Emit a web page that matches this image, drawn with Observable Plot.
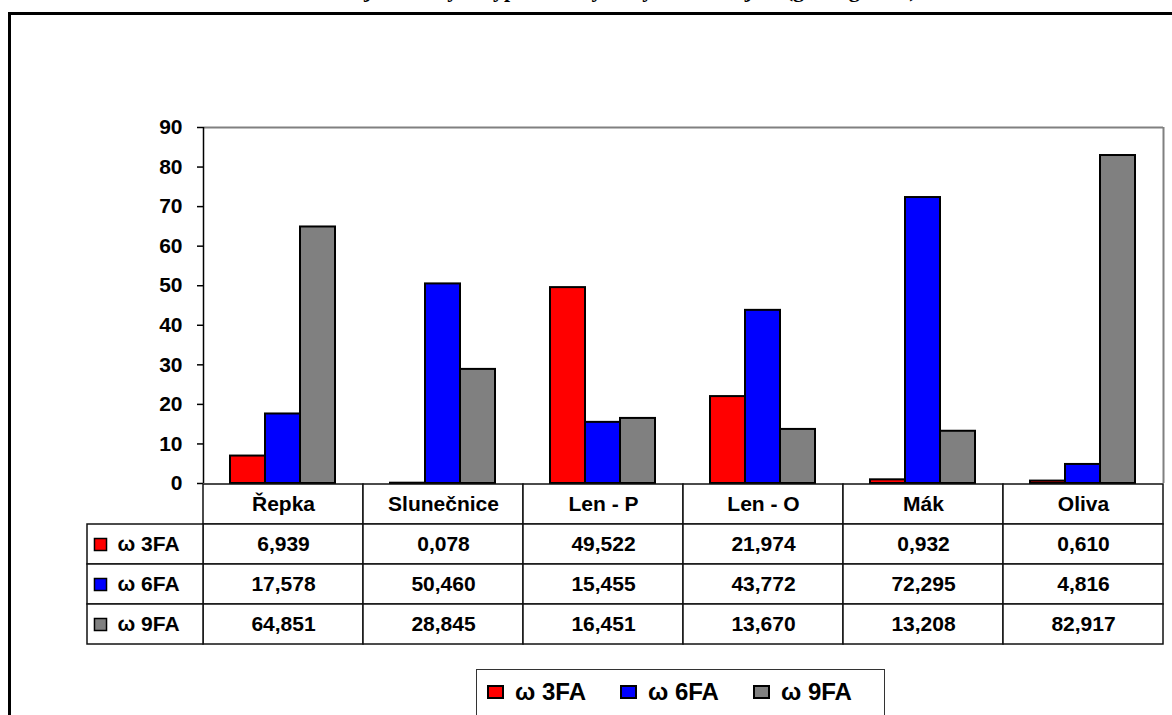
<!DOCTYPE html>
<html><head><meta charset="utf-8">
<script src="https://cdn.jsdelivr.net/npm/d3@7"></script>
<script src="https://cdn.jsdelivr.net/npm/@observablehq/plot@0.6"></script>
<style>
html,body{margin:0;padding:0;background:#fff;overflow:hidden;}
#page{position:relative;width:1172px;height:715px;overflow:hidden;font-family:"Liberation Sans",Arial,sans-serif;}
#frame{position:absolute;left:8px;top:12px;width:1220px;height:800px;border:3px solid #000;box-sizing:border-box;}
#title{position:absolute;top:-21px;left:0;width:1214px;text-align:center;white-space:nowrap;font:bold 22px "Liberation Serif","Times New Roman",serif;line-height:22px;color:#000;}
.layer{position:absolute;left:0;}
#legendbox{position:absolute;left:476px;top:669px;width:409px;height:70px;border:1px solid #333;box-sizing:border-box;padding:5px 0 0 11px;background:#fff;overflow:hidden;}
.lg-swatches{font:bold 24px "Liberation Sans",Arial,sans-serif !important;margin:0 !important;color:#000;flex-wrap:nowrap !important;white-space:nowrap;width:max-content;}
.lg-swatch{margin-right:35px !important;}
.lg-swatch:last-child{margin-right:0 !important;}
.lg-swatch > svg{margin-right:12px !important;overflow:visible;}
.lg-swatch > svg rect{stroke:#000;stroke-width:2px;}
</style>
</head><body>
<div id="page">
  <div id="frame"></div>
  <div id="title">Obsah jednotlivých typů mastných kyselin v olejích (g/100 g tuku)</div>
  <div id="bars" class="layer" style="top:0"></div>
  <div id="axes" class="layer" style="top:0"></div>
  <div id="table" class="layer" style="top:473px"></div>
  <div id="rowlabels" class="layer" style="top:473px"></div>
  <div id="legendbox"></div>
</div>
<script>
const categories = ["Řepka", "Slunečnice", "Len - P", "Len - O", "Mák", "Oliva"];
const series = ["ω 3FA", "ω 6FA", "ω 9FA"];
const omega3 = [6.939, 0.078, 49.522, 21.974, 0.932, 0.610];
const omega6 = [17.578, 50.460, 15.455, 43.772, 72.295, 4.816];
const omega9 = [64.851, 28.845, 16.451, 13.670, 13.208, 82.917];
const colors = ["#ff0000", "#0000ff", "#808080"];
const yTicks = [0, 10, 20, 30, 40, 50, 60, 70, 80, 90];
const HEAD = "header";

const seriesValues = [omega3, omega6, omega9];
const data = [];
series.forEach((s, i) => categories.forEach((c, j) => data.push({cat: c, series: s, value: seriesValues[i][j]})));
const fmt = v => v.toFixed(3).replace(".", ",");
const font = "'Liberation Sans', Arial, sans-serif";
const baseStyle = {background: "transparent", overflow: "visible", fontFamily: font, color: "#000"};

// Bars (grouped by facet)
const bars = Plot.plot({
  width: 1172, height: 490,
  marginLeft: 203, marginRight: 9, marginTop: 127, marginBottom: 7,
  style: baseStyle,
  fx: {domain: categories, paddingInner: 0.33, paddingOuter: 0.165, axis: null, label: null},
  x: {domain: series, padding: 0, axis: null},
  y: {domain: [0, 90], axis: null},
  color: {domain: series, range: colors},
  marks: [
    Plot.barY(data, {fx: "cat", x: "series", y: "value", fill: "series", stroke: "#000", strokeWidth: 2})
  ]
});
document.getElementById("bars").appendChild(bars);

// Frame lines and y axis
const axes = Plot.plot({
  width: 1172, height: 490,
  marginLeft: 203, marginRight: 9, marginTop: 127, marginBottom: 7,
  style: baseStyle,
  x: {domain: [0, 1], axis: null},
  y: {domain: [0, 90], axis: null},
  marks: [
    Plot.ruleY([90], {stroke: "#808080", strokeWidth: 2}),
    Plot.ruleX([1], {stroke: "#808080", strokeWidth: 2}),
    Plot.ruleX([0], {stroke: "#000", strokeWidth: 1.5}),
    Plot.axisY({ticks: yTicks, tickSize: 6, tickPadding: 15, fontSize: 21, fontWeight: "bold", stroke: "#000", strokeWidth: 1.5, fill: "#000", label: null})
  ]
});
document.getElementById("axes").appendChild(axes);

// Data table
const rows = [HEAD, ...series];
const cells = [];
rows.forEach(r => categories.forEach(c => cells.push({cat: c, row: r})));
const table = Plot.plot({
  width: 1172, height: 182,
  marginLeft: 203, marginRight: 9, marginTop: 10, marginBottom: 10,
  style: baseStyle,
  x: {domain: categories, padding: 0, axis: null},
  y: {domain: rows, padding: 0, axis: null},
  marks: [
    Plot.cell(cells, {x: "cat", y: "row", fill: "#fff", stroke: "#111", strokeWidth: 1.5, inset: 0}),
    Plot.text(categories, {x: d => d, y: () => HEAD, text: d => d, fontSize: 21, fontWeight: "bold", fill: "#000"}),
    Plot.text(data, {x: "cat", y: "series", text: d => fmt(d.value), fontSize: 21, fontWeight: "bold", fill: "#000"})
  ]
});
document.getElementById("table").appendChild(table);

// Row labels with swatches
const rowlabels = Plot.plot({
  width: 1172, height: 182,
  marginLeft: 87, marginRight: 969, marginTop: 10, marginBottom: 10,
  style: baseStyle,
  y: {domain: rows, padding: 0, axis: null},
  color: {domain: series, range: colors},
  marks: [
    Plot.cell(series, {y: d => d, fill: "#fff", stroke: "#111", strokeWidth: 1.5, inset: 0}),
    Plot.dot(series, {y: d => d, frameAnchor: "left", dx: 13, symbol: "square", r: 6.8, fill: d => d, stroke: "#000", strokeWidth: 1.5}),
    Plot.text(series, {y: d => d, frameAnchor: "left", dx: 30, text: d => d, textAnchor: "start", fontSize: 21, fontWeight: "bold", fill: "#000"})
  ]
});
document.getElementById("rowlabels").appendChild(rowlabels);

// Legend
const legend = Plot.legend({
  color: {domain: series, range: colors},
  legend: "swatches", className: "lg", swatchWidth: 15, swatchHeight: 12
});
document.getElementById("legendbox").appendChild(legend);
</script>
</body></html>
